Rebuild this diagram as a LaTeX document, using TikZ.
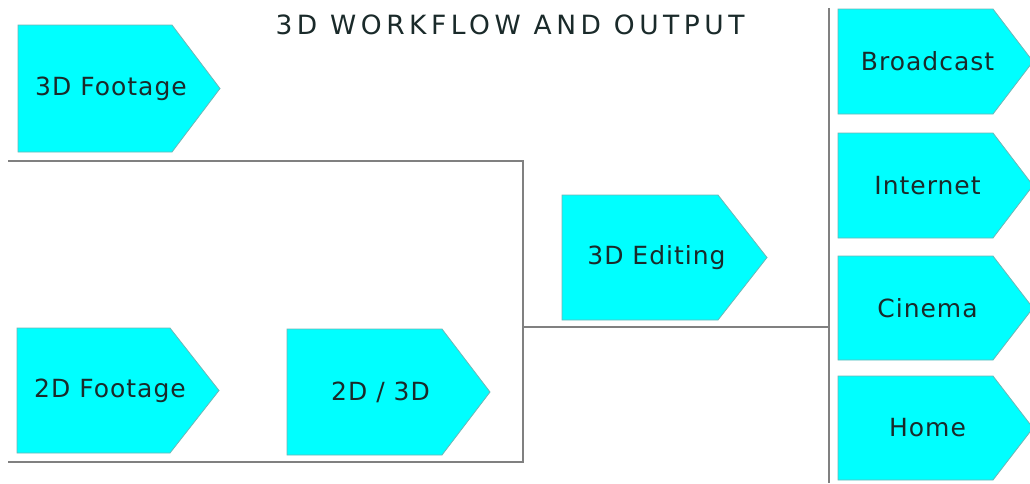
\documentclass[tikz,border=0pt]{standalone}
\usepackage{fontspec}
\setmainfont{DejaVu Sans}
\newfontfamily\boxfont[LetterSpace=4]{DejaVu Sans}
\newfontfamily\headfont[LetterSpace=17]{DejaVu Sans}
\definecolor{boxcyan}{HTML}{00FFFF}
\definecolor{boxedge}{HTML}{6FB5B5}
\definecolor{linegray}{HTML}{808080}
\definecolor{inktext}{HTML}{1A2A2A}
\newcommand\flowbox[7]{%
  \filldraw[boxshape] (#2,#3) -- (#4,#3) -- (#5,{(#3+#6)/2}) -- (#4,#6) -- (#2,#6) -- cycle;
  \node[boxtext] (#1) at ({(#2+#5)/2-8},{(#3+#6)/2}) {#7};
}
\begin{document}
\begin{tikzpicture}[x=1pt,y=-1pt,
  boxshape/.style={fill=boxcyan,draw=boxedge,line width=0.8pt,line join=miter},
  boxtext/.style={inner sep=0pt,font=\boxfont\fontsize{25}{30}\selectfont,text=inktext},
  titletext/.style={inner sep=0pt,font=\headfont\fontsize{26.5}{32}\selectfont,text=inktext},
  conn/.style={draw=linegray,line width=1.6pt}]
\useasboundingbox (0,0) rectangle (1030,483);
\node[titletext] (title) at (510,25) {3D WORKFLOW AND OUTPUT};
% bracket lines
\coordinate (topL) at (8,161);
\coordinate (topR) at (523,161);
\coordinate (botR) at (523,462);
\coordinate (botL) at (8,462);
\coordinate (midL) at (523,327);
\coordinate (midR) at (829,327);
\coordinate (outT) at (829,8);
\coordinate (outB) at (829,483);
\draw[conn] (topL) -- (topR) -- (botR) -- (botL);
\draw[conn] (midL) -- (midR);
\draw[conn] (outT) -- (outB);
% boxes
\flowbox{foot3d}{18}{25}{172}{220}{152}{3D Footage}
\flowbox{foot2d}{17}{328}{170}{219}{453}{2D Footage}
\flowbox{conv}{287}{329}{442}{490}{455}{2D / 3D}
\flowbox{edit}{562}{195}{718}{767}{320}{3D Editing}
\flowbox{bcast}{838}{9}{993}{1033}{114}{Broadcast}
\flowbox{inet}{838}{133}{993}{1033}{238}{Internet}
\flowbox{cine}{838}{256}{993}{1033}{360}{Cinema}
\flowbox{home}{838}{376}{993}{1033}{480}{Home}
\end{tikzpicture}
\end{document}
